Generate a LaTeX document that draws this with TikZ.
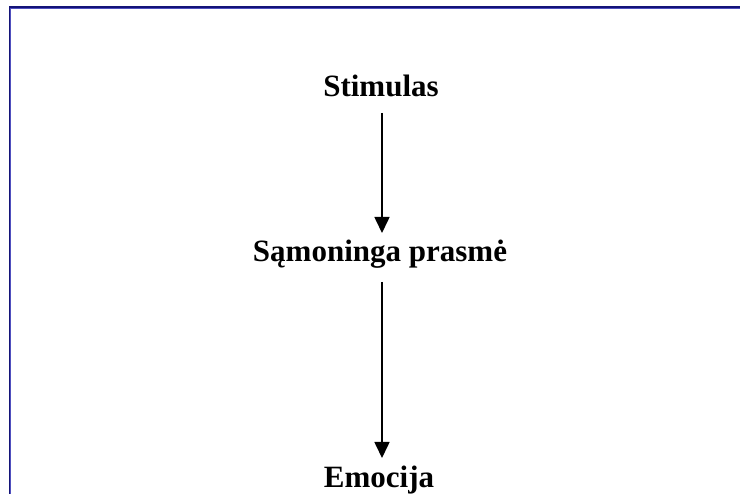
\documentclass[tikz,border=0pt]{standalone}
\usepackage{fontspec}
\setmainfont{Liberation Serif}
\usetikzlibrary{arrows.meta}
\definecolor{framedark}{RGB}{20,20,120}
\definecolor{framelight}{RGB}{80,80,190}
\tikzset{
  label/.style={font=\fontsize{31}{37}\selectfont\bfseries, inner sep=0pt, anchor=base},
  flow/.style={line width=1.6pt, -{Triangle[width=15pt,length=16pt]}},
}
\begin{document}
\begin{tikzpicture}[x=1pt,y=-1pt]
\useasboundingbox (0,0) rectangle (740,494);
% frame
\draw[framedark, line width=2pt] (9,7.3) -- (740,7.3);
\draw[framelight, line width=1pt] (10.5,9) -- (740,9);
\draw[framedark, line width=1.2pt] (9.4,7) -- (9.4,494);
\draw[framelight, line width=1.4pt] (10.6,8) -- (10.6,494);
% nodes
\node[label] (stim) at (381,97) {Stimulas};
\node[label] (sam) at (380,262) {Sąmoninga prasmė};
\node[label] (emo) at (379,488) {Emocija};
% arrows
\draw[flow] ([xshift=1pt,yshift=-16pt]stim.base) -- ([xshift=2pt,yshift=29pt]sam.base);
\draw[flow] ([xshift=2pt,yshift=-20pt]sam.base) -- ([xshift=3pt,yshift=30pt]emo.base);
\end{tikzpicture}
\end{document}
